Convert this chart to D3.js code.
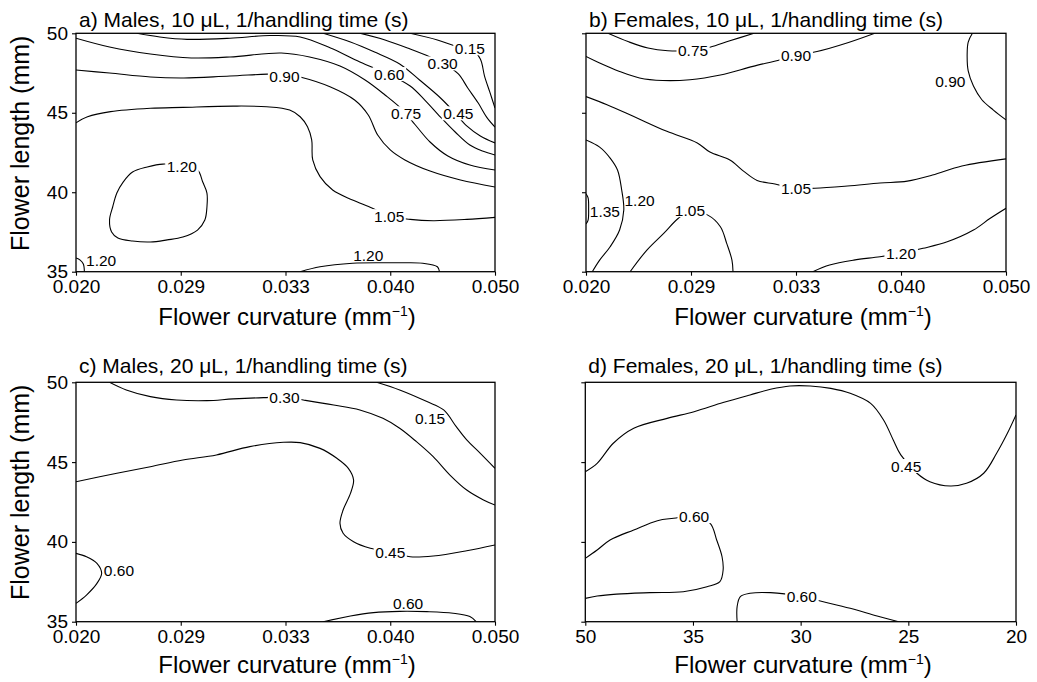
<!DOCTYPE html>
<html>
<head>
<meta charset="utf-8">
<script src="https://cdn.jsdelivr.net/npm/d3@7"></script>
<style>
body { margin: 0; background: #fff; }
text { font-family: "Liberation Sans", Arial, sans-serif; fill: #000; }
</style>
</head>
<body>
<svg id="chart" width="1037" height="682"></svg>
<script>
// tick labels (x positions are evenly spaced categories 0..4)
var curvTicks = ['0.020', '0.029', '0.033', '0.040', '0.050'];
var dTicks = ['50', '35', '30', '25', '20'];
var yTicks = [35, 40, 45, 50];

//=======================
// a) Males, 10 uL
//=======================
var a015 = [[3.19,50],[3.45,49.58],[3.62,49.2],[3.78,48.98],[3.86,48.38],[3.90,47.31],[3.95,46.31],[4,45.3]];
var a030 = [[2.71,50],[2.95,49.58],[3.19,49.01],[3.38,48.51],[3.52,48.07],[3.65,47.44],[3.74,46.56],[3.84,45.61],[3.92,44.73],[4,44.1]];
var a045 = [[2.36,50],[2.62,49.45],[2.85,48.82],[3.09,48.07],[3.28,47.06],[3.48,45.93],[3.62,44.98],[3.73,44.17],[3.86,43.54],[4,43.1]];
var a060 = [[0.58,50],[0.80,49.77],[1.06,49.62],[1.47,49.69],[1.85,49.86],[2.14,49.77],[2.43,49.07],[2.71,48.19],[3.0,47.38],[3.19,46.68],[3.33,45.8],[3.48,44.73],[3.62,43.79],[3.76,42.97],[3.88,42.59],[4,42.34]];
var a075 = [[0,49.69],[0.32,49.14],[0.71,48.7],[1.10,48.45],[1.47,48.51],[1.96,48.76],[2.23,48.51],[2.52,47.94],[2.76,47.06],[2.95,46.12],[3.12,45.17],[3.24,44.23],[3.38,43.16],[3.55,42.28],[3.76,41.71],[4,41.4]];
var a090 = [[0,47.69],[0.32,47.5],[0.71,47.25],[1.03,47.19],[1.47,47.31],[1.98,47.44],[2.14,47.25],[2.43,46.62],[2.66,45.8],[2.79,44.86],[2.88,43.6],[3.0,42.66],[3.14,42.03],[3.38,41.33],[3.67,40.77],[4,40.33]];
var a105 = [[0,44.37],[0.11,44.75],[0.33,45.07],[0.71,45.28],[1.02,45.34],[1.50,45.42],[1.82,45.38],[2.04,45.17],[2.14,44.75],[2.21,44.12],[2.25,43.29],[2.26,42.03],[2.33,40.98],[2.45,40.14],[2.64,39.51],[2.83,38.99],[2.98,38.5],[3.19,38.29],[3.41,38.21],[3.73,38.29],[4,38.42]];
var a120 = [[0.83,41.77],[0.68,41.59],[0.54,41.27],[0.45,40.64],[0.39,39.95],[0.35,39.07],[0.32,38.25],[0.34,37.5],[0.40,37.12],[0.54,36.93],[0.71,36.87],[0.87,37.0],[1.02,37.18],[1.16,37.62],[1.23,38.25],[1.25,39.07],[1.25,39.95],[1.21,40.64],[1.16,41.4],[1.01,41.65]];
var a120corner = [[0,35.86],[0.04,35.73],[0.07,35.48],[0.08,35]];
var a120bottom = [[2.14,35],[2.33,35.31],[2.64,35.53],[2.97,35.56],[3.12,35.56],[3.31,35.53],[3.45,35.31],[3.47,35]];
// [x, y, text, inline]
var aLabels = [
  [3.76,49.06,'0.15',1], [3.50,48.11,'0.30',1], [3.65,44.97,'0.45',1],
  [2.99,47.44,'0.60',1], [3.15,44.97,'0.75',1], [1.99,47.31,'0.90',1],
  [2.99,38.5,'1.05',1], [1.01,41.6,'1.20',1], [0.24,35.73,'1.20',0], [2.79,36.05,'1.20',0]
];

//=======================
// b) Females, 10 uL
//=======================
var b075 = [[0.21,50],[0.40,49.48],[0.59,49.07],[0.78,48.9],[0.99,48.92],[1.18,49.12],[1.37,49.53],[1.60,50]];
var b090 = [[0,48.54],[0.13,48.13],[0.32,47.6],[0.51,47.19],[0.73,47.03],[0.99,47.08],[1.28,47.38],[1.59,47.92],[1.85,48.34],[2.0,48.63],[2.2,48.85],[2.5,49.42],[2.75,50]];
var b090right = [[3.68,50],[3.64,49.45],[3.63,48.65],[3.64,47.63],[3.69,46.68],[3.77,45.82],[3.88,45.17],[4,44.55]];
var b105 = [[0,46.02],[0.2,45.51],[0.45,44.78],[0.77,43.83],[1.06,43.1],[1.18,42.53],[1.37,42.03],[1.5,41.33],[1.63,40.74],[1.8,40.52],[1.99,40.25],[2.18,40.25],[2.49,40.39],[2.8,40.58],[3.06,40.7],[3.3,41.08],[3.58,41.65],[4,42.1]];
var b105low = [[0.42,35],[0.58,36.36],[0.74,37.41],[0.88,38.36],[0.99,38.8],[1.16,38.56],[1.28,37.83],[1.34,36.78],[1.39,35.73],[1.40,35]];
var b120 = [[0,43.29],[0.13,42.84],[0.23,42.15],[0.3,41.4],[0.34,40.14],[0.36,38.88],[0.32,37.62],[0.23,36.57],[0.13,35.73],[0.06,35]];
var b120right = [[2.16,35],[2.32,35.42],[2.55,35.73],[2.8,35.94],[2.99,36.15],[3.21,36.47],[3.44,36.88],[3.69,37.62],[3.85,38.36],[4,38.99]];
var b135 = [[0,39.9],[0.02,39.64],[0.025,38.94],[0.02,38.25],[0,38.0]];
var bLabels = [
  [1.02,48.95,'0.75',1], [2.0,48.63,'0.90',1], [3.47,46.95,'0.90',0],
  [2.0,40.25,'1.05',1], [0.51,39.51,'1.20',0], [0.18,38.77,'1.35',0],
  [0.99,38.88,'1.05',1], [3.0,36.15,'1.20',1]
];

//=======================
// c) Males, 20 uL
//=======================
var c015 = [[2.87,50],[3.09,49.52],[3.35,48.79],[3.51,48.27],[3.63,47.22],[3.73,46.39],[3.86,45.55],[4,44.61]];
var c030 = [[0.32,50],[0.48,49.52],[0.71,49.1],[0.96,48.89],[1.25,48.85],[1.5,48.96],[1.79,49.04],[2.0,49.06],[2.17,48.89],[2.46,48.58],[2.71,48.27],[2.93,47.74],[3.09,47.12],[3.25,46.28],[3.41,45.34],[3.57,44.19],[3.73,43.25],[3.89,42.63],[4,42.31]];
var c045 = [[0,43.77],[0.39,44.3],[0.71,44.71],[1.02,45.13],[1.34,45.45],[1.66,45.97],[1.98,46.24],[2.14,46.22],[2.33,45.86],[2.49,45.24],[2.6,44.61],[2.65,43.88],[2.62,43.04],[2.55,42.0],[2.52,41.16],[2.55,40.54],[2.65,40.01],[2.81,39.6],[3.03,39.33],[3.19,39.07],[3.41,39.12],[3.73,39.45],[4,39.81]];
var c060 = [[0,39.28],[0.1,39.07],[0.2,38.66],[0.245,38.03],[0.2,37.4],[0.1,36.67],[0,36.15]];
var c060bottom = [[2.36,35],[2.62,35.36],[2.84,35.57],[3.09,35.65],[3.35,35.63],[3.6,35.53],[3.76,35.32],[3.82,35]];
var cLabels = [
  [1.99,49.06,'0.30',1], [3.38,47.74,'0.15',0], [3.0,39.33,'0.45',1],
  [0.41,38.24,'0.60',0], [3.17,36.15,'0.60',0]
];

//=======================
// d) Females, 20 uL
//=======================
var d045 = [[0,44.4],[0.11,44.92],[0.26,46.18],[0.45,47.12],[0.76,47.74],[1.01,48.16],[1.28,48.73],[1.53,49.21],[1.72,49.56],[1.9,49.77],[2.09,49.77],[2.28,49.62],[2.46,49.31],[2.65,48.68],[2.77,47.64],[2.86,46.39],[2.93,45.45],[3.08,44.3],[3.2,43.77],[3.39,43.5],[3.54,43.67],[3.7,44.3],[3.82,45.55],[3.92,46.8],[4,47.95]];
var d060 = [[0,38.97],[0.11,39.49],[0.23,40.12],[0.45,40.75],[0.67,41.33],[0.82,41.48],[1.01,41.62],[1.16,41.16],[1.22,40.12],[1.27,39.07],[1.28,38.24],[1.25,37.51],[1.13,37.19],[0.91,36.88],[0.6,36.82],[0.29,36.73],[0.11,36.61],[0,36.46]];
var d060low = [[1.41,35],[1.41,35.94],[1.44,36.57],[1.53,36.78],[1.72,36.82],[2.01,36.57],[2.21,36.25],[2.46,35.84],[2.71,35.36],[2.91,35]];
var dLabels = [
  [2.98,44.76,'0.45',1], [1.01,41.62,'0.60',1], [2.01,36.57,'0.60',1]
];

var panels = [
  { title: 'a) Males, 10 \u03bcL, 1/handling time (s)', left: 76, right: 495, top: 33.3, bottom: 271.7,
    titleY: 27, xTitleX: 287, xTitleY: 325, xLabels: curvTicks, yLabels: true,
    contours: [a015, a030, a045, a060, a075, a090, a105, a120corner, a120bottom], loops: [a120], labels: aLabels },
  { title: 'b) Females, 10 \u03bcL, 1/handling time (s)', left: 586, right: 1006, top: 33.3, bottom: 271.7,
    titleY: 27, xTitleX: 803, xTitleY: 325, xLabels: curvTicks, yLabels: false,
    contours: [b075, b090, b090right, b105, b105low, b120, b120right, b135], loops: [], labels: bLabels },
  { title: 'c) Males, 20 \u03bcL, 1/handling time (s)', left: 76, right: 495, top: 382.3, bottom: 621.7,
    titleY: 373, xTitleX: 287, xTitleY: 673, xLabels: curvTicks, yLabels: true,
    contours: [c015, c030, c045, c060, c060bottom], loops: [], labels: cLabels },
  { title: 'd) Females, 20 \u03bcL, 1/handling time (s)', left: 585.3, right: 1016, top: 382.3, bottom: 621.7,
    titleY: 373, xTitleX: 803, xTitleY: 673, xLabels: dTicks, yLabels: false,
    contours: [d045, d060, d060low], loops: [], labels: dLabels }
];

var svg = d3.select('#chart');
svg.append('rect').attr('width', 1037).attr('height', 682).attr('fill', '#fff');

function drawPanel (p, i) {
	var x = d3.scaleLinear().domain([0, 4]).range([p.left, p.right]);
	var y = d3.scaleLinear().domain([35, 50]).range([p.bottom, p.top]);
	var g = svg.append('g');

	g.append('clipPath')
		.attr('id', 'clip' + i)
		.append('rect')
		.attr('x', p.left)
		.attr('y', p.top)
		.attr('width', p.right - p.left)
		.attr('height', p.bottom - p.top);

	var openLine = d3.line()
		.x(function (d) { return x(d[0]); })
		.y(function (d) { return y(d[1]); })
		.curve(d3.curveCatmullRom.alpha(0.5));
	var loopLine = d3.line()
		.x(function (d) { return x(d[0]); })
		.y(function (d) { return y(d[1]); })
		.curve(d3.curveCatmullRomClosed.alpha(0.5));

	var lines = g.append('g').attr('clip-path', 'url(#clip' + i + ')');
	p.contours.forEach(function (c) {
		lines.append('path')
			.attr('d', openLine(c))
			.attr('fill', 'none')
			.attr('stroke', '#000')
			.attr('stroke-width', 1.1);
	});
	p.loops.forEach(function (c) {
		lines.append('path')
			.attr('d', loopLine(c))
			.attr('fill', 'none')
			.attr('stroke', '#000')
			.attr('stroke-width', 1.1);
	});

	// contour labels; inline ones get a white box that cuts the line
	var labs = g.append('g').attr('clip-path', 'url(#clip' + i + ')');
	p.labels.forEach(function (d) {
		var box = labs.append('rect').attr('fill', '#fff');
		var t = labs.append('text')
			.attr('x', x(d[0]))
			.attr('y', y(d[1]))
			.attr('dy', '0.36em')
			.attr('text-anchor', 'middle')
			.style('font-size', '15.5px')
			.text(d[2]);
		if (d[3]) {
			var bb = t.node().getBBox();
			box.attr('x', bb.x - 1.5)
				.attr('y', bb.y + 1.5)
				.attr('width', bb.width + 3)
				.attr('height', bb.height - 3);
		} else {
			box.remove();
		}
	});

	// axes
	var yAxis = d3.axisLeft(y)
		.tickValues(yTicks)
		.tickSize(4)
		.tickPadding(4)
		.tickFormat(p.yLabels ? d3.format('d') : '');
	g.append('g')
		.attr('transform', 'translate(' + p.left + ',0)')
		.call(yAxis)
		.call(function (a) { a.select('.domain').remove(); })
		.selectAll('text')
		.style('font-family', '"Liberation Sans", Arial, sans-serif')
		.style('font-size', '19px');

	var xAxis = d3.axisBottom(x)
		.tickValues([0, 1, 2, 3, 4])
		.tickSize(4)
		.tickPadding(4)
		.tickFormat(function (d) { return p.xLabels[d]; });
	g.append('g')
		.attr('transform', 'translate(0,' + p.bottom + ')')
		.call(xAxis)
		.call(function (a) { a.select('.domain').remove(); })
		.selectAll('text')
		.style('font-family', '"Liberation Sans", Arial, sans-serif')
		.style('font-size', '19px');

	g.selectAll('.tick line').attr('stroke', '#000').attr('stroke-width', 1.1);

	// frame
	g.append('rect')
		.attr('x', p.left)
		.attr('y', p.top)
		.attr('width', p.right - p.left)
		.attr('height', p.bottom - p.top)
		.attr('fill', 'none')
		.attr('stroke', '#000')
		.attr('stroke-width', 1.3);

	// title
	g.append('text')
		.attr('x', p.left + 3)
		.attr('y', p.titleY)
		.style('font-size', '21px')
		.text(p.title);

	// x title with superscript
	var xt = g.append('text')
		.attr('x', p.xTitleX)
		.attr('y', p.xTitleY)
		.attr('text-anchor', 'middle')
		.style('font-size', '24px');
	xt.append('tspan').text('Flower curvature (mm');
	xt.append('tspan').attr('dy', -9).style('font-size', '14px').text('\u22121');
	xt.append('tspan').attr('dy', 9).text(')');

	if (p.yLabels) {
		g.append('text')
			.attr('transform', 'translate(29,' + (p.top + 110) + ') rotate(-90)')
			.attr('text-anchor', 'middle')
			.style('font-size', '25px')
			.text('Flower length (mm)');
	}
}

panels.forEach(drawPanel);
</script>
</body>
</html>
